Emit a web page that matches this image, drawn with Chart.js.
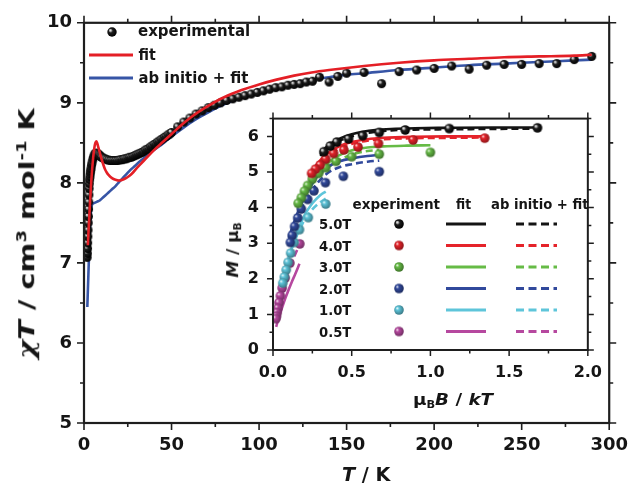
<!DOCTYPE html>
<html>
<head>
<meta charset="utf-8">
<script src="https://cdn.jsdelivr.net/npm/chart.js@4.4.1/dist/chart.umd.min.js"></script>
<style>
html,body{margin:0;padding:0;background:#fff;}
#wrap{position:relative;width:640px;height:483px;overflow:hidden;background:#fff;}
canvas{position:absolute;}
#main{left:0;top:0;}
#inset{left:200px;top:95px;}
.t{position:absolute;white-space:nowrap;line-height:1;font-family:'DejaVu Sans',sans-serif;font-weight:bold;color:#151515;transform-origin:50% 50%;}
.t i{font-style:oblique;}
.sup{font-size:0.62em;position:relative;top:-0.62em;}
.sub{font-size:0.62em;position:relative;top:0.32em;}
.chi{font-family:'DejaVu Serif',serif;font-style:italic;font-weight:bold;}
</style>
</head>
<body>
<div id="wrap">
<canvas id="main" width="640" height="483"></canvas>
<canvas id="inset" width="415" height="320"></canvas>
</div>
<script>
// ================= MAIN PLOT DATA (chiT vs T) =================
const expT = [1.8,1.9,2.0,2.1,2.2,2.3,2.4,2.5,2.6,2.7,2.8,2.9,3.0,3.2,3.4,3.6,3.8,4.0,4.3,4.6,5.0,5.4,5.8,6.2,6.6,7.0,7.5,8.0,8.5,9.0,9.5,10,
  11,12,13,14,15,16,17,18,19,20,21,22,23,24,25,26,27,28,29,30,31,32,33,34,35,36,37,38,39,40,41,42,43,44,45,46,47,48,49,50,
  53.5,57,60.5,64,67.5,71,74.5,78,81.5,85,88.5,92,95.5,99,102.5,106,109.5,113,116.5,120,123.5,127,130.5,
  134.5,140,145,150,160,170,180,190,200,210,220,230,240,250,260,270,280,290];
const expChiT = [7.07,7.12,7.18,7.25,7.33,7.41,7.50,7.58,7.67,7.76,7.85,7.93,7.99,8.04,8.08,8.12,8.15,8.18,8.22,8.25,8.29,8.32,8.34,8.36,8.37,8.37,8.37,8.36,8.35,8.34,8.33,8.32,
  8.31,8.30,8.29,8.285,8.28,8.28,8.28,8.28,8.28,8.285,8.29,8.29,8.30,8.30,8.31,8.32,8.32,8.33,8.34,8.35,8.36,8.37,8.38,8.39,8.41,8.42,8.43,8.45,8.46,8.48,8.49,8.51,8.52,8.54,8.55,8.57,8.58,8.60,8.61,8.63,
  8.70,8.76,8.81,8.86,8.90,8.94,8.97,9.00,9.03,9.05,9.07,9.09,9.11,9.13,9.15,9.17,9.19,9.20,9.22,9.23,9.24,9.26,9.27,
  9.32,9.26,9.33,9.37,9.38,9.24,9.39,9.41,9.43,9.46,9.42,9.47,9.48,9.48,9.49,9.49,9.54,9.58];

const fitT = [2.2,2.6,3,3.5,4,4.5,5,5.5,6,6.5,7,7.5,8,9,10,11,12,13,14,16,18,20,22,24,26,28,30,33,36,40,45,50,55,60,65,70,80,90,100,110,120,130,140,160,180,200,220,240,260,280,290];
const fitChiT = [7.22,7.40,7.57,7.78,7.97,8.13,8.26,8.37,8.45,8.50,8.52,8.50,8.46,8.38,8.30,8.23,8.17,8.13,8.10,8.06,8.04,8.03,8.04,8.06,8.09,8.13,8.18,8.25,8.32,8.41,8.51,8.61,8.71,8.80,8.88,8.95,9.07,9.16,9.23,9.29,9.34,9.38,9.41,9.46,9.50,9.53,9.55,9.57,9.58,9.59,9.60];

const abT = [1.9,2.2,2.5,2.8,3.1,3.5,4.0,4.5,5.0,6,7,8,9,10,12,14,16,18,20,23,26,29,32,36,40,45,50,55,60,65,70,80,90,100,110,120,130,140,150,160,180,200,220,240,260,280,290];
const abChiT = [6.45,6.65,6.85,7.05,7.25,7.48,7.65,7.72,7.74,7.75,7.76,7.77,7.78,7.80,7.84,7.88,7.92,7.96,8.01,8.08,8.15,8.21,8.27,8.34,8.41,8.49,8.58,8.66,8.74,8.81,8.87,8.98,9.07,9.14,9.20,9.25,9.29,9.32,9.35,9.37,9.41,9.44,9.47,9.49,9.51,9.53,9.54];

// ================= INSET DATA (M vs muB B / kT) =================
const fieldLabels = ['5.0T','4.0T','3.0T','2.0T','1.0T','0.5T'];
const fieldColors = ['#141414','#e5232a','#66bb46','#31499c','#5ec5da','#b6489f'];

const m5x = [1.68,1.12,0.84,0.675,0.57,0.48,0.405,0.364,0.323];
const m5y = [6.24,6.22,6.18,6.11,6.02,5.93,5.84,5.73,5.57];
const m4x = [1.345,0.89,0.67,0.54,0.45,0.385,0.335,0.30,0.27,0.245];
const m4y = [5.95,5.90,5.80,5.70,5.62,5.52,5.36,5.20,5.08,4.96];
const m3x = [1.0,0.675,0.50,0.40,0.335,0.29,0.25,0.22,0.20,0.18,0.16];
const m3y = [5.55,5.50,5.43,5.30,5.12,4.96,4.80,4.62,4.46,4.28,4.12];
const m2x = [0.675,0.447,0.333,0.26,0.22,0.18,0.157,0.137,0.122,0.11];
const m2y = [5.01,4.88,4.70,4.47,4.23,3.96,3.71,3.47,3.22,3.02];
const m1x = [0.335,0.224,0.168,0.134,0.112,0.096,0.084,0.072,0.062];
const m1y = [4.10,3.72,3.38,3.02,2.72,2.46,2.25,2.05,1.88];
const m05x = [0.170,0.107,0.077,0.058,0.047,0.038,0.031,0.026,0.022,0.019];
const m05y = [2.98,2.44,2.02,1.74,1.52,1.33,1.17,1.05,0.95,0.88];

// fit (solid)
const f5x = [0.30,0.33,0.37,0.43,0.50,0.57,0.65,0.75,0.9,1.1,1.4,1.68];
const f5y = [5.50,5.66,5.80,5.95,6.06,6.13,6.18,6.21,6.23,6.24,6.25,6.25];
const f4x = [0.23,0.26,0.30,0.35,0.43,0.5,0.6,0.7,0.9,1.1,1.345];
const f4y = [4.90,5.10,5.33,5.53,5.74,5.84,5.92,5.96,5.99,6.00,6.00];
const f3x = [0.17,0.2,0.24,0.28,0.33,0.38,0.45,0.52,0.6,0.7,0.85,1.0];
const f3y = [4.15,4.40,4.68,4.93,5.17,5.36,5.53,5.63,5.69,5.72,5.74,5.75];
const f2x = [0.10,0.13,0.16,0.2,0.25,0.3,0.35,0.43,0.5,0.6,0.675];
const f2y = [3.15,3.55,3.90,4.28,4.68,4.97,5.15,5.31,5.38,5.45,5.48];
const f1x = [0.04,0.06,0.08,0.1,0.13,0.16,0.2,0.25,0.3,0.335];
const f1y = [1.30,1.80,2.22,2.58,3.02,3.38,3.78,4.12,4.35,4.45];
const f05x = [0.02,0.04,0.06,0.08,0.1,0.12,0.14,0.168];
const f05y = [0.65,0.95,1.22,1.47,1.70,1.92,2.12,2.42];

// ab initio + fit (dashed)
const a5x = [0.30,0.33,0.37,0.43,0.50,0.57,0.65,0.75,0.9,1.1,1.4,1.68];
const a5y = [5.45,5.60,5.74,5.89,6.00,6.08,6.13,6.17,6.19,6.20,6.21,6.22];
const a4x = [0.23,0.26,0.30,0.35,0.43,0.5,0.6,0.7,0.9,1.1,1.345];
const a4y = [4.85,5.05,5.27,5.47,5.68,5.79,5.88,5.92,5.95,5.96,5.97];
const a3x = [0.17,0.2,0.24,0.28,0.33,0.38,0.45,0.52,0.6,0.675];
const a3y = [4.10,4.33,4.60,4.83,5.05,5.23,5.40,5.52,5.59,5.62];
const a2x = [0.10,0.13,0.16,0.2,0.25,0.3,0.35,0.43,0.5,0.6,0.675];
const a2y = [3.05,3.45,3.80,4.15,4.50,4.78,4.98,5.15,5.22,5.29,5.32];
const a1x = [0.04,0.06,0.08,0.1,0.13,0.16,0.2,0.25,0.3,0.335];
const a1y = [1.35,1.85,2.25,2.58,2.98,3.30,3.65,3.95,4.15,4.25];
const a05x = [0.02,0.04,0.06,0.08,0.1,0.12,0.14,0.168];
const a05y = [0.85,1.28,1.65,1.98,2.25,2.48,2.68,2.95];

// ================= helpers =================
const RED = '#e41f26', BLUE = '#3755a6';
const pts = (xs, ys) => xs.map((v, i) => ({x: v, y: ys[i]}));

function shade(hex, f) {
  const n = parseInt(hex.slice(1), 16);
  const r = Math.round(((n >> 16) & 255) * f), g = Math.round(((n >> 8) & 255) * f), b = Math.round((n & 255) * f);
  return `rgb(${r},${g},${b})`;
}
function sphere(color, r, dark) {
  const s = Math.ceil(2 * r) + 2;
  const c = document.createElement('canvas'); c.width = s; c.height = s;
  const g = c.getContext('2d');
  const cx = s / 2, cy = s / 2;
  const gr = g.createRadialGradient(cx - 0.4 * r, cy - 0.4 * r, 0, cx - 0.1 * r, cy - 0.1 * r, r * 1.1);
  if (dark) {
    gr.addColorStop(0, '#ffffff'); gr.addColorStop(0.2, '#aaaaaa'); gr.addColorStop(0.42, '#1e1e1e'); gr.addColorStop(1, '#000000');
  } else {
    gr.addColorStop(0, '#ffffff'); gr.addColorStop(0.32, color); gr.addColorStop(1, shade(color, 0.62));
  }
  g.fillStyle = gr; g.beginPath(); g.arc(cx, cy, r, 0, Math.PI * 2); g.fill();
  return c;
}

function axesDeco(o) {
  return {
    id: 'axesDeco',
    beforeDatasetsDraw(chart) {
      if (!o.fill) return;
      const a = chart.chartArea, ctx = chart.ctx;
      ctx.save(); ctx.fillStyle = '#fff'; ctx.fillRect(a.left, a.top, a.right - a.left, a.bottom - a.top); ctx.restore();
    },
    afterDraw(chart) {
      const {ctx, chartArea: a, scales: {x, y}} = chart;
      ctx.save();
      ctx.strokeStyle = '#1e1e1e';
      ctx.lineWidth = o.tw;
      ctx.beginPath();
      const isMaj = (v, st) => Math.abs(v / st - Math.round(v / st)) < 1e-6;
      let n = Math.round((x.max - x.min) / o.xMinor);
      for (let i = 0; i <= n; i++) {
        const v = x.min + i * o.xMinor, p = x.getPixelForValue(v);
        const L = isMaj(v, o.xMajor) ? o.major : o.minor;
        ctx.moveTo(p, a.bottom); ctx.lineTo(p, a.bottom + L);
        ctx.moveTo(p, a.top); ctx.lineTo(p, a.top - L);
      }
      n = Math.round((y.max - y.min) / o.yMinor);
      for (let i = 0; i <= n; i++) {
        const v = y.min + i * o.yMinor, p = y.getPixelForValue(v);
        const L = isMaj(v, o.yMajor) ? o.major : o.minor;
        ctx.moveTo(a.left, p); ctx.lineTo(a.left - L, p);
        ctx.moveTo(a.right, p); ctx.lineTo(a.right + L, p);
      }
      ctx.stroke();
      ctx.lineWidth = o.fw;
      ctx.strokeRect(a.left, a.top, a.right - a.left, a.bottom - a.top);
      ctx.restore();
      if (o.legend) o.legend(ctx);
    }
  };
}

const sphMain = sphere('#000', 4.5, true);
const sphMainLeg = sphere('#000', 4.7, true);
const insetSph = fieldColors.map((c, i) => sphere(c, 4.8, i === 0));

// ================= MAIN CHART =================
const tickFontMain = {family: 'DejaVu Sans', weight: 'bold', size: 18};
new Chart(document.getElementById('main'), {
  type: 'scatter',
  data: {
    datasets: [
      {label: 'fit', data: pts(fitT, fitChiT), showLine: true, borderColor: RED, borderWidth: 2.6,
       pointRadius: 0, cubicInterpolationMode: 'monotone', order: 0},
      {label: 'experimental', data: pts(expT, expChiT), showLine: false, pointStyle: sphMain,
       pointRadius: 4.5, order: 1},
      {label: 'ab initio + fit', data: pts(abT, abChiT), showLine: true, borderColor: BLUE, borderWidth: 2.6,
       pointRadius: 0, cubicInterpolationMode: 'monotone', order: 2}
    ]
  },
  options: {
    responsive: false, animation: false, devicePixelRatio: 1,
    layout: {padding: {top: 20, right: 18, left: 0, bottom: 0}},
    plugins: {legend: {display: false}, tooltip: {enabled: false}},
    scales: {
      x: {type: 'linear', min: 0, max: 300, afterFit: s => { s.height = 60; },
          grid: {display: false, drawTicks: false}, border: {display: false},
          ticks: {stepSize: 50, padding: 12, font: tickFontMain, color: '#151515', maxRotation: 0, autoSkip: false,
                  callback: v => String(v)}},
      y: {type: 'linear', min: 5, max: 10, afterFit: s => { s.width = 84; },
          grid: {display: false, drawTicks: false}, border: {display: false},
          ticks: {stepSize: 1, padding: 12, font: tickFontMain, color: '#151515', autoSkip: false,
                  callback: v => String(v)}}
    }
  },
  plugins: [axesDeco({xMinor: 25, xMajor: 50, yMinor: 0.5, yMajor: 1, major: 7, minor: 4, tw: 1.6, fw: 2.2,
    legend: ctx => {
      ctx.save();
      ctx.drawImage(sphMainLeg, 112 - sphMainLeg.width / 2, 32 - sphMainLeg.height / 2);
      ctx.lineWidth = 3; ctx.lineCap = 'butt';
      ctx.strokeStyle = RED; ctx.beginPath(); ctx.moveTo(89, 55); ctx.lineTo(133, 55); ctx.stroke();
      ctx.strokeStyle = BLUE; ctx.beginPath(); ctx.moveTo(89, 78); ctx.lineTo(133, 78); ctx.stroke();
      ctx.restore();
    }})]
});

// ================= INSET CHART =================
const mX = [m5x, m4x, m3x, m2x, m1x, m05x], mY = [m5y, m4y, m3y, m2y, m1y, m05y];
const fX = [f5x, f4x, f3x, f2x, f1x, f05x], fY = [f5y, f4y, f3y, f2y, f1y, f05y];
const aX = [a5x, a4x, a3x, a2x, a1x, a05x], aY = [a5y, a4y, a3y, a2y, a1y, a05y];
const insetSets = [];
for (let i = 5; i >= 0; i--) {
  insetSets.push({label: fieldLabels[i] + ' ab initio + fit', data: pts(aX[i], aY[i]), showLine: true,
    borderColor: fieldColors[i], borderWidth: 2.6, borderDash: [7, 4], pointRadius: 0,
    cubicInterpolationMode: 'monotone', order: 20 + i});
  insetSets.push({label: fieldLabels[i] + ' fit', data: pts(fX[i], fY[i]), showLine: true,
    borderColor: fieldColors[i], borderWidth: 2.6, pointRadius: 0,
    cubicInterpolationMode: 'monotone', order: 10 + i});
}
for (let i = 5; i >= 0; i--) {
  insetSets.push({label: fieldLabels[i] + ' experiment', data: pts(mX[i], mY[i]), showLine: false,
    pointStyle: insetSph[i], pointRadius: 4.8, order: i});
}
const tickFontInset = {family: 'DejaVu Sans', weight: 'bold', size: 16};
const legRows = [224, 245.5, 267, 288.5, 310, 331.5];
new Chart(document.getElementById('inset'), {
  type: 'scatter',
  data: {datasets: insetSets},
  options: {
    responsive: false, animation: false, devicePixelRatio: 1,
    layout: {padding: {top: 13, right: 20, left: 0, bottom: 0}},
    plugins: {legend: {display: false}, tooltip: {enabled: false}},
    scales: {
      x: {type: 'linear', min: 0, max: 2, afterFit: s => { s.height = 65; },
          grid: {display: false, drawTicks: false}, border: {display: false},
          ticks: {stepSize: 0.5, padding: 13, font: tickFontInset, color: '#151515', maxRotation: 0, autoSkip: false,
                  callback: v => v.toFixed(1)}},
      y: {type: 'linear', min: 0, max: 6.5, afterFit: s => { s.width = 73; },
          grid: {display: false, drawTicks: false}, border: {display: false},
          ticks: {stepSize: 1, includeBounds: false, padding: 14, font: tickFontInset, color: '#151515', autoSkip: false,
                  callback: v => (Number.isInteger(v) ? String(v) : '')}}
    }
  },
  plugins: [axesDeco({fill: true, xMinor: 0.25, xMajor: 0.5, yMinor: 0.5, yMajor: 1, major: 6, minor: 3.5, tw: 1.5, fw: 2,
    legend: ctx => {
      ctx.save();
      const ox = 200, oy = 95;
      legRows.forEach((ry, i) => {
        const s = insetSph[i];
        ctx.drawImage(s, 399 - ox - s.width / 2, ry - oy - s.height / 2);
        ctx.strokeStyle = fieldColors[i]; ctx.lineWidth = 3;
        ctx.setLineDash([]);
        ctx.beginPath(); ctx.moveTo(446 - ox, ry - oy); ctx.lineTo(486 - ox, ry - oy); ctx.stroke();
        ctx.setLineDash([8, 4.5]);
        ctx.beginPath(); ctx.moveTo(516 - ox, ry - oy); ctx.lineTo(557 - ox, ry - oy); ctx.stroke();
      });
      ctx.restore();
    }})]
});

// ================= TEXT (titles & legends) =================
const wrap = document.getElementById('wrap');
function txt(html, o) {
  const d = document.createElement('div');
  d.className = 't'; d.innerHTML = html; d.style.fontSize = o.size + 'px';
  wrap.appendChild(d);
  const w = d.offsetWidth, h = d.offsetHeight;
  const sx = o.w ? o.w / w : 1;
  let cx = o.x;
  if (o.anchor === 'l') cx = o.x + (o.w || w) / 2;
  d.style.left = (cx - w / 2) + 'px';
  d.style.top = (o.y - h / 2) + 'px';
  d.style.transform = `rotate(${o.rot || 0}deg) scaleX(${sx})`;
}
// main axis titles
txt('<span class="chi">χ</span><i>T</i> / cm<span class="sup">3</span> mol<span class="sup">-1</span> K', {x: 26, y: 233, size: 22, w: 250, rot: -90});
txt('<i>T</i> / K', {x: 366, y: 474, size: 20, w: 48});
// main legend
txt('experimental', {x: 138, y: 31, size: 15, w: 112, anchor: 'l'});
txt('fit', {x: 138, y: 55, size: 15, w: 17, anchor: 'l'});
txt('ab initio + fit', {x: 138, y: 78, size: 15, w: 110, anchor: 'l'});
// inset axis titles
txt('μ<span class="sub">B</span><i>B</i> / <i>kT</i>', {x: 453, y: 400, size: 16, w: 80});
txt('<i>M</i> / μ<span class="sub">B</span>', {x: 233, y: 250, size: 16, w: 55, rot: -90});
// inset legend
txt('experiment', {x: 396, y: 204, size: 14, w: 88});
txt('fit', {x: 463.5, y: 204, size: 14, w: 15});
txt('ab initio + fit', {x: 540, y: 204, size: 14, w: 98});
fieldLabels.forEach((l, i) => txt(l, {x: 318.5, y: legRows[i], size: 14, w: 32, anchor: 'l'}));
</script>
</body>
</html>
